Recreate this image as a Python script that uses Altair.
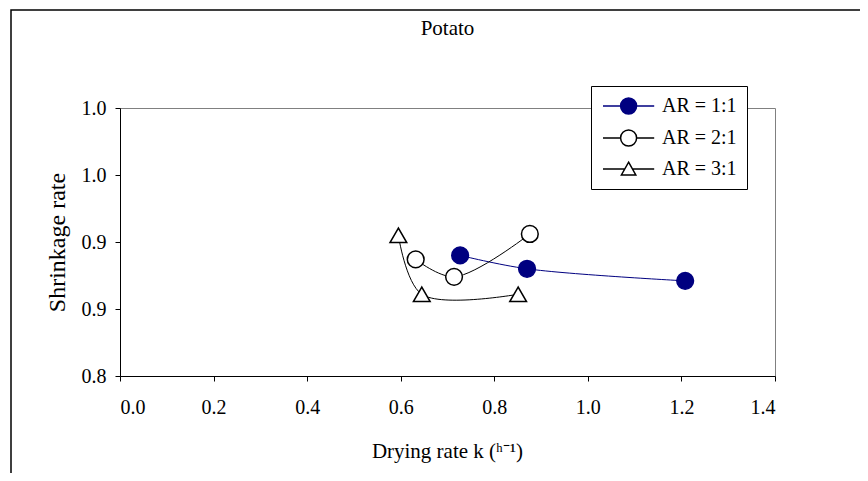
import altair as alt
import pandas as pd

# ---- data ----
series_names = ["AR = 1:1", "AR = 2:1", "AR = 3:1"]
ar11_x = [0.727, 0.870, 1.208]
ar11_y = [0.890, 0.880, 0.871]
ar21_x = [0.632, 0.714, 0.876]
ar21_y = [0.887, 0.874, 0.906]
ar31_x = [0.595, 0.645, 0.851]
ar31_y = [0.905, 0.861, 0.861]

x_ticks = [0.0, 0.2, 0.4, 0.6, 0.8, 1.0, 1.2, 1.4]
y_ticks = [0.80, 0.85, 0.90, 0.95, 1.00]

rows = []
for name, xs, ys in zip(series_names, [ar11_x, ar21_x, ar31_x], [ar11_y, ar21_y, ar31_y]):
    for i, (xv, yv) in enumerate(zip(xs, ys)):
        rows.append({"series": name, "k": xv, "s": yv, "idx": i})
df = pd.DataFrame(rows)

FONT = "Liberation Serif"
line_colors = ["#000080", "#000000", "#000000"]
fill_colors = ["#000080", "#ffffff", "#ffffff"]
stroke_colors = ["#000080", "#000000", "#000000"]
plot_shapes = ["circle", "circle", "triangle-up"]
legend_shapes = [
    "M-1,0L1.2,0M3.2,0L5.4,0M1.2,0A1,1,0,1,1,3.2,0A1,1,0,1,1,1.2,0Z",
    "M-1,0L1.2,0M3.2,0L5.4,0M1.2,0A1,1,0,1,1,3.2,0A1,1,0,1,1,1.2,0Z",
    "M-1,0L1.72,0M2.68,0L5.4,0M2.2,-0.85L3.1,0.75L1.3,0.75Z",
]

xenc = alt.X("k:Q", scale=alt.Scale(domain=[0, 1.4], nice=False),
             axis=alt.Axis(values=x_ticks, format=".1f", tickSize=5, labelPadding=16,
                           title="Drying rate k (ʰ⁻¹)", titleX=327, titleY=81,
                           titleBaseline="alphabetic", titleAlign="center",
                           titleFont=FONT, titleFontSize=21, titleFontWeight="normal"))
yenc = alt.Y("s:Q", scale=alt.Scale(domain=[0.8, 1.0], nice=False, zero=False),
             axis=alt.Axis(values=y_ticks, labelExpr="format(datum.value + 0.001, '.1f')",
                           tickSize=5, labelPadding=9,
                           title="Shrinkage rate", titleAngle=270, titleX=-63, titleY=134,
                           titleBaseline="middle", titleAlign="center",
                           titleFont=FONT, titleFontSize=24, titleFontWeight="normal"))

frame = alt.Chart(alt.Data(values=[{"a": 1}])).mark_rect(
    fillOpacity=0, stroke="black", strokeWidth=1.5
).encode(x=alt.value(-109), y=alt.value(-98), x2=alt.value(900), y2=alt.value(700))

lines = alt.Chart(df).mark_line(interpolate="catmull-rom", strokeWidth=1).encode(
    x=xenc, y=yenc,
    color=alt.Color("series:N", scale=alt.Scale(domain=series_names, range=line_colors), legend=None),
    order="idx:Q",
)

points = alt.Chart(df).mark_point(opacity=1, strokeWidth=1.5, size=280).encode(
    x="k:Q", y="s:Q",
    shape=alt.Shape("series:N", scale=alt.Scale(domain=series_names, range=plot_shapes), legend=None),
    fill=alt.Fill("series:N", scale=alt.Scale(domain=series_names, range=fill_colors), legend=None),
    stroke=alt.Stroke("series:N", scale=alt.Scale(domain=series_names, range=stroke_colors), legend=None),
)

leg = alt.Legend(orient="none", legendX=471, legendY=-22, title=None,
                 fillColor="white", strokeColor="black", padding=10,
                 symbolSize=256, symbolStrokeWidth=1.5, labelOffset=41,
                 labelFont=FONT, labelFontSize=20, labelColor="black", rowPadding=10)

legend_layer = alt.Chart(df).transform_filter("false").mark_point(opacity=1, strokeWidth=1.5).encode(
    x="k:Q", y="s:Q",
    shape=alt.Shape("series:N", scale=alt.Scale(domain=series_names, range=legend_shapes), legend=leg),
    fill=alt.Fill("series:N", scale=alt.Scale(domain=series_names, range=fill_colors), legend=leg),
    stroke=alt.Stroke("series:N", scale=alt.Scale(domain=series_names, range=stroke_colors), legend=leg),
)

chart = alt.layer(frame, lines, points, legend_layer).resolve_scale(
    shape="independent", fill="independent", stroke="independent", color="independent"
).properties(
    width=655, height=268,
    title=alt.TitleParams("Potato", font=FONT, fontSize=21, fontWeight="normal",
                          color="black", anchor="middle", offset=0, dy=30),
    padding={"left": 112, "top": 100, "right": 85, "bottom": 97},
    autosize=alt.AutoSizeParams(type="none"),
).configure(
    font=FONT, background="white"
).configure_view(
    stroke="#808080", strokeWidth=1
).configure_axis(
    grid=False, domainColor="black", tickColor="black", labelColor="black",
    labelFont=FONT, labelFontSize=20, titleColor="black"
)

chart.save("out.html", embed_options={"renderer": "svg", "actions": False})
